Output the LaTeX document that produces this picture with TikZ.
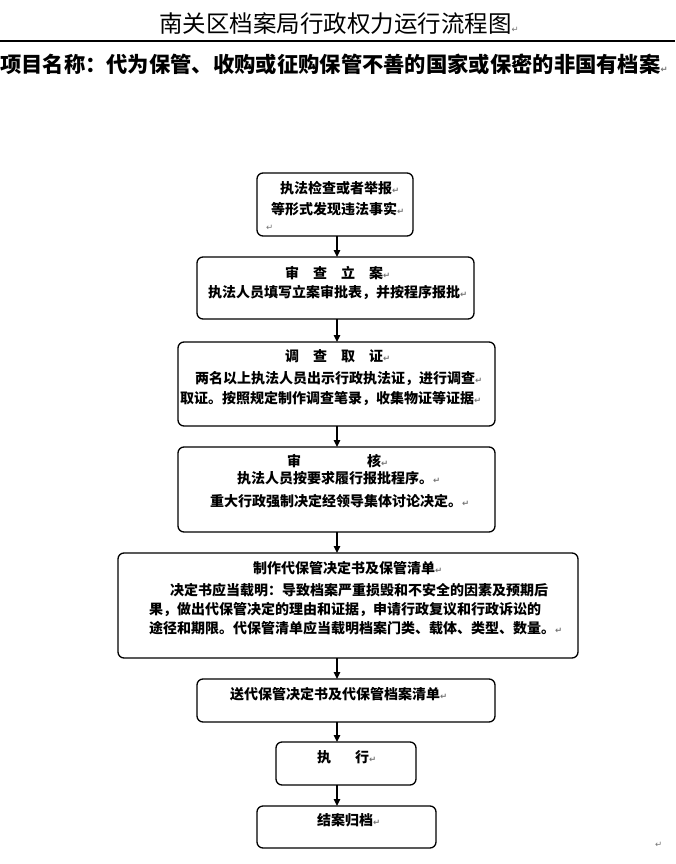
\documentclass[tikz,border=0pt]{standalone}
\usepackage{fontspec}
\setmainfont{Noto Sans CJK SC}
\newfontfamily\dvs{DejaVu Sans}
\usetikzlibrary{arrows.meta}
\newcommand\rt{{\dvs\fontsize{8.5}{8.5}\selectfont\color{black!55}↵}}
\tikzset{x=1pt,y=-1pt,
 box/.style={draw, line width=1.3pt, rounded corners=6pt, inner sep=0pt, outer sep=0pt},
 txt/.style={anchor=west, inner sep=0pt, font=\fontsize{14}{14}\selectfont\bfseries},
 arr/.style={line width=1.3pt, -{Triangle[length=7pt,width=6.5pt]}},
 retmark/.style={anchor=west, inner sep=0pt}
}
\begin{document}
\begin{tikzpicture}
\useasboundingbox (0,0) rectangle (675,864);
% header
\node[anchor=west, inner sep=0pt, font=\fontsize{23.5}{24}\selectfont] (title) at (159,24) {南关区档案局行政权力运行流程图\rt};
\coordinate (hl) at (0,41);
\coordinate (hr) at (675,41);
\draw[line width=1.2pt] (hl) -- (hr);
\node[anchor=west, inner sep=0pt, font=\fontsize{21.3}{22}\selectfont\bfseries] (sub) at (0,64) {项目名称：代为保管、收购或征购保管不善的国家或保密的非国有档案\rt};
% boxes
\node[box, minimum width=156pt, minimum height=63pt] (b1) at (335,204.5) {};
\node[box, minimum width=277pt, minimum height=62pt] (b2) at (335.5,288) {};
\node[box, minimum width=317pt, minimum height=84pt] (b3) at (336.5,384) {};
\node[box, minimum width=317pt, minimum height=85pt] (b4) at (336.5,489.5) {};
\node[box, minimum width=460pt, minimum height=105pt] (b5) at (348,605.5) {};
\node[box, minimum width=298pt, minimum height=43pt] (b6) at (346,700.5) {};
\node[box, minimum width=140pt, minimum height=43pt] (b7) at (346,763.5) {};
\node[box, minimum width=179pt, minimum height=42pt] (b8) at (346.5,827) {};
% texts
\node[txt] (t1a) at (280,188) {执法检查或者举报\rt};
\node[txt] (t1b) at (271,209) {等形式发现违法事实\rt};
\node[retmark] (t1c) at (266,228) {\rt};
\node[txt] (t2a) at (285,273) {审\quad 查\quad 立\quad 案\rt};
\node[txt] (t2b) at (208,292) {执法人员填写立案审批表，并按程序报批\rt};
\node[txt] (t3a) at (285,356) {调\quad 查\quad 取\quad 证\rt};
\node[txt] (t3b) at (195,379) {两名以上执法人员出示行政执法证，进行调查\rt};
\node[txt] (t3c) at (180,399) {取证。按照规定制作调查笔录，收集物证等证据\rt};
\node[txt] (t4a) at (287,461) {审\hspace{66pt}核\rt};
\node[txt] (t4b) at (237,478) {执法人员按要求履行报批程序。\rt};
\node[txt] (t4c) at (210,501) {重大行政强制决定经领导集体讨论决定。\rt};
\node[txt] (t5a) at (253,568) {制作代保管决定书及保管清单\rt};
\node[txt] (t5b) at (170,590) {决定书应当载明：导致档案严重损毁和不安全的因素及预期后};
\node[txt] (t5c) at (149,610) {果，做出代保管决定的理由和证据，申请行政复议和行政诉讼的};
\node[txt] (t5d) at (149,628) {途径和期限。代保管清单应当载明档案门类、载体、类型、数量。\rt};
\node[txt] (t6) at (230,694) {送代保管决定书及代保管档案清单\rt};
\node[txt] (t7) at (317,757) {执\hspace{24pt}行\rt};
\node[txt] (t8) at (317,820) {结案归档\rt};
\node[retmark] (m9) at (655,845) {\rt};
% arrows
\coordinate (ax) at (337,0);
\draw[arr] (b1.south -| ax) -- (b2.north -| ax);
\draw[arr] (b2.south -| ax) -- (b3.north -| ax);
\draw[arr] (b3.south -| ax) -- (b4.north -| ax);
\draw[arr] (b4.south -| ax) -- (b5.north -| ax);
\draw[arr] (b5.south -| ax) -- (b6.north -| ax);
\draw[arr] (b6.south -| ax) -- (b7.north -| ax);
\draw[arr] (b7.south -| ax) -- (b8.north -| ax);
\end{tikzpicture}
\end{document}
